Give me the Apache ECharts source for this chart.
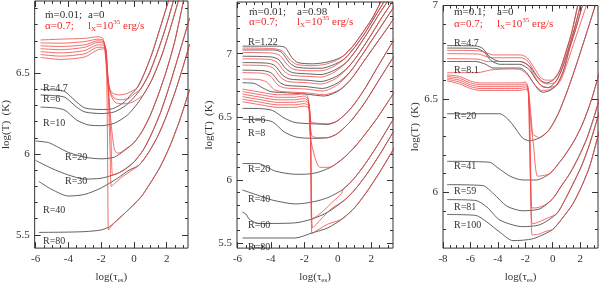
<!DOCTYPE html>
<html><head><meta charset="utf-8">
<script src="https://cdn.jsdelivr.net/npm/echarts@6/dist/echarts.min.js"></script>
<style>html,body{margin:0;padding:0;background:#fff}#c{width:600px;height:289px}</style>
</head><body><div id="c"></div>
<script>
// ---------- tick values ----------
const xMajorA = [-6,-4,-2,0,2];
const xMinorA = [-5.5,-5,-4.5,-3.5,-3,-2.5,-1.5,-1,-0.5,0.5,1,1.5,2.5,3];
const xMajorB = [-8,-6,-4,-2,0,2];
const xMinorB = [-7.5,-7,-6.5,-5.5,-5,-4.5,-3.5,-3,-2.5,-1.5,-1,-0.5,0.5,1,1.5,2.5,3];
const yMajor1 = [5.5,6,6.5];
const yMinor1 = [5.6,5.7,5.8,5.9,6.1,6.2,6.3,6.4,6.6,6.7,6.8,6.9];
const yMajor2 = [5.5,6,6.5,7];
const yMinor2 = [5.6,5.7,5.8,5.9,6.1,6.2,6.3,6.4,6.6,6.7,6.8,6.9,7.1,7.2,7.3,7.4];
const yMajor3 = [6,6.5,7];
const yMinor3 = [5.8,5.9,6.1,6.2,6.3,6.4,6.6,6.7,6.8,6.9];

// ---------- panel 1 (mdot=0.01, a=0) ----------
const p1Black4_7 = [[-5.7,6.40],[-4.8,6.395],[-4.2,6.385],[-3.6,6.33],[-3.0,6.285],[-2.0,6.275],[-1.3,6.28],[-0.6,6.32],[-0.2,6.365]];
const p1Red4_7 = [[-5.7,6.705],[-4.5,6.71],[-3.0,6.715],[-2.2,6.725],[-1.9,6.715],[-1.75,6.62],[-1.6,6.45],[-1.35,6.38],[-0.9,6.365],[-0.4,6.375]];
const p1Tail4_7 = [[0.2,6.41],[0.6,6.49],[1.1,6.62],[1.6,6.78],[2.15,6.96]];
const p1Black6 = [[-5.7,6.365],[-4.8,6.36],[-4.2,6.35],[-3.5,6.29],[-3.0,6.26],[-2.0,6.25],[-1.2,6.26],[-0.5,6.30],[0.0,6.35]];
const p1Red6 = [[-5.7,6.687],[-4.5,6.685],[-3.0,6.695],[-2.2,6.71],[-1.85,6.70],[-1.72,6.6],[-1.5,6.40],[-1.2,6.345],[-0.8,6.335],[-0.3,6.345],[0.0,6.37]];
const p1Tail6 = [[0.4,6.40],[0.9,6.49],[1.4,6.62],[1.9,6.77],[2.45,6.96]];
const p1Black10 = [[-5.7,6.29],[-4.8,6.285],[-4.2,6.27],[-3.5,6.21],[-2.8,6.18],[-2.0,6.175],[-1.2,6.19],[-0.4,6.24],[0.2,6.31]];
const p1Red10 = [[-5.7,6.669],[-4.5,6.665],[-3.0,6.675],[-2.2,6.70],[-1.82,6.69],[-1.68,6.58],[-1.45,6.38],[-1.15,6.32],[-0.66,6.31],[-0.1,6.32],[0.3,6.345]];
const p1Tail10 = [[0.6,6.37],[1.1,6.46],[1.7,6.61],[2.2,6.77],[2.75,6.96]];
const p1Black20 = [[-6.0,6.08],[-5.2,6.07],[-4.6,6.04],[-4.0,6.01],[-3.0,5.98],[-2.0,5.97],[-1.2,5.98],[-0.6,6.02]];
const p1Red20 = [[-5.7,6.651],[-4.5,6.645],[-3.0,6.66],[-2.2,6.69],[-1.8,6.68],[-1.65,6.55],[-1.45,6.25],[-1.2,6.03],[-1.0,6.005],[-0.8,6.01],[-0.45,6.035]];
const p1Tail20 = [[0.0,6.07],[0.5,6.14],[1.0,6.24],[1.5,6.37],[2.0,6.52],[2.5,6.70],[3.05,6.96]];
const p1Black30 = [[-6.0,5.96],[-5.0,5.91],[-4.0,5.87],[-3.0,5.845],[-2.0,5.85],[-1.0,5.88],[-0.5,5.91]];
const p1Red30 = [[-5.7,6.633],[-4.5,6.625],[-3.0,6.64],[-2.2,6.675],[-1.78,6.67],[-1.62,6.5],[-1.4,6.1],[-1.3,5.87],[-1.1,5.875],[-0.6,5.90]];
const p1Tail30 = [[0.0,5.95],[0.6,6.03],[1.1,6.13],[1.6,6.25],[2.1,6.40],[2.7,6.60],[3.4,6.84]];
const p1Black40 = [[-5.8,5.83],[-5.0,5.78],[-4.0,5.74],[-3.0,5.75],[-2.0,5.79],[-1.0,5.85],[-0.3,5.90]];
const p1Red40 = [[-5.7,6.615],[-4.5,6.605],[-3.0,6.62],[-2.2,6.66],[-1.76,6.66],[-1.6,6.45],[-1.45,6.0],[-1.38,5.80],[-1.2,5.815],[-0.7,5.86]];
const p1Tail40 = [[0.3,5.93],[0.9,6.01],[1.5,6.12],[2.0,6.24],[2.5,6.38],[3.0,6.54],[3.4,6.68]];
const p1Black80 = [[-5.8,5.515],[-4.0,5.517],[-3.0,5.52],[-2.0,5.53],[-1.5,5.55]];
const p1Red80 = [[-5.7,6.597],[-4.5,6.585],[-3.0,6.60],[-2.2,6.645],[-1.75,6.65],[-1.65,6.4],[-1.6,5.9],[-1.55,5.53],[-1.4,5.55]];
const p1Tail80 = [[-1.2,5.575],[-0.6,5.63],[0.4,5.73],[1.0,5.82],[1.6,5.92],[2.2,6.05],[2.8,6.21],[3.4,6.40]];

// ---------- panel 2 (mdot=0.01, a=0.98) ----------
const p2Black0 = [[-5.7,7.06],[-3.6,7.06],[-3.15,7.05],[-2.75,6.97],[-2.4,6.93],[-1.5,6.92],[-0.8,6.93],[-0.2,6.95]];
const p2Red0 = [[-5.7,7.045],[-3.8,7.04],[-3.3,7.02],[-2.85,6.95],[-2.45,6.915],[-1.5,6.905],[-0.8,6.915],[-0.2,6.94]];
const p2Tail0 = [[0.3,6.98],[0.9,7.06],[1.5,7.17],[2.1,7.29],[2.6,7.42]];
const p2Black1 = [[-5.7,7.03],[-3.8,7.03],[-3.35,7.01],[-2.9,6.93],[-2.5,6.895],[-1.6,6.885],[-1.0,6.885],[-0.3,6.91]];
const p2Red1 = [[-5.7,7.01],[-3.9,7.005],[-3.45,6.985],[-3.0,6.91],[-2.6,6.875],[-1.6,6.865],[-1.0,6.865],[-0.3,6.895]];
const p2Tail1 = [[0.4,6.96],[1.0,7.05],[1.6,7.16],[2.2,7.29],[2.8,7.42]];
const p2Black2 = [[-5.7,6.98],[-4.0,6.975],[-3.55,6.955],[-3.1,6.88],[-2.7,6.85],[-1.7,6.84],[-1.0,6.835],[-0.2,6.87]];
const p2Red2 = [[-5.7,6.96],[-4.1,6.955],[-3.65,6.935],[-3.2,6.86],[-2.8,6.83],[-1.7,6.82],[-1.0,6.815],[-0.2,6.855]];
const p2Tail2 = [[0.5,6.93],[1.1,7.03],[1.8,7.17],[2.4,7.30],[3.0,7.42]];
const p2Black3 = [[-5.7,6.93],[-4.2,6.925],[-3.75,6.905],[-3.3,6.83],[-2.9,6.80],[-1.8,6.79],[-1.0,6.78],[-0.1,6.82]];
const p2Red3 = [[-5.7,6.91],[-4.3,6.905],[-3.85,6.885],[-3.4,6.81],[-3.0,6.78],[-1.8,6.77],[-1.0,6.76],[-0.1,6.805]];
const p2Tail3 = [[0.6,6.89],[1.2,6.99],[1.9,7.13],[2.6,7.28],[3.4,7.44]];
const p2Black4 = [[-5.7,6.87],[-4.4,6.865],[-3.95,6.845],[-3.5,6.775],[-3.1,6.75],[-1.9,6.74],[-0.9,6.725],[0.0,6.77]];
const p2Red4 = [[-5.7,6.85],[-4.5,6.845],[-4.05,6.825],[-3.6,6.755],[-3.2,6.73],[-1.9,6.72],[-0.9,6.705],[0.0,6.755]];
const p2Tail4 = [[0.7,6.85],[1.4,6.98],[2.1,7.12],[2.8,7.26],[3.4,7.38]];
const p2Black5 = [[-5.7,6.77],[-5.0,6.765],[-4.5,6.73],[-4.0,6.70],[-3.0,6.69],[-1.9,6.68],[-0.8,6.665],[0.1,6.71]];
const p2Red5 = [[-5.7,6.80],[-4.7,6.795],[-4.25,6.775],[-3.8,6.715],[-3.3,6.70],[-1.9,6.69],[-0.8,6.675],[0.1,6.715]];
const p2Tail5 = [[0.8,6.80],[1.5,6.93],[2.3,7.08],[3.0,7.21],[3.4,7.29]];
const p2Black6 = [[-5.7,6.567],[-4.6,6.565],[-3.9,6.55],[-3.2,6.49],[-2.55,6.455],[-1.5,6.445],[-0.6,6.44]];
const p2Red6 = [[-5.7,6.72],[-4.6,6.695],[-3.6,6.675],[-2.6,6.675],[-2.0,6.685],[-1.8,6.66],[-1.7,6.55],[-1.6,6.46],[-1.3,6.45],[-0.6,6.445]];
const p2Tail6 = [[0.0,6.47],[0.8,6.57],[1.6,6.72],[2.4,6.90],[3.4,7.12]];
const p2Black8 = [[-5.7,6.48],[-4.6,6.478],[-3.9,6.46],[-3.2,6.38],[-2.5,6.34],[-1.5,6.33],[-0.6,6.335]];
const p2Red8 = [[-5.7,6.70],[-4.6,6.675],[-3.6,6.655],[-2.6,6.655],[-2.0,6.665],[-1.78,6.64],[-1.68,6.50],[-1.55,6.35],[-1.2,6.335],[-0.6,6.335]];
const p2Tail8 = [[0.0,6.37],[0.8,6.47],[1.6,6.61],[2.5,6.80],[3.4,6.99]];
const p2Black20 = [[-5.7,6.13],[-4.75,6.13],[-4.2,6.10],[-3.75,6.07],[-2.55,6.045],[-2.0,6.045],[-1.2,6.06],[-0.6,6.09]];
const p2Red20 = [[-5.7,6.68],[-4.6,6.655],[-3.6,6.635],[-2.6,6.635],[-2.0,6.645],[-1.75,6.62],[-1.65,6.34],[-1.07,6.10],[-0.6,6.10]];
const p2Tail20 = [[-0.3,6.11],[0.4,6.18],[1.0,6.26],[1.5,6.34],[2.3,6.48],[3.4,6.70]];
const p2Black40 = [[-5.7,5.92],[-4.8,5.88],[-3.9,5.84],[-2.55,5.81],[-2.0,5.815],[-1.2,5.835],[-0.6,5.86],[0.0,5.90]];
const p2Red40 = [[-5.7,6.66],[-4.6,6.635],[-3.6,6.615],[-2.6,6.615],[-2.0,6.625],[-1.72,6.60],[-1.62,6.2],[-1.55,5.69],[-1.3,5.71],[-0.95,5.745],[-0.2,5.84],[0.2,5.89]];
const p2Tail40 = [[0.35,5.93],[0.9,6.0],[1.6,6.12],[2.4,6.28],[3.4,6.50]];
const p2Black60 = [[-5.7,5.745],[-5.5,5.73],[-5.3,5.69],[-4.9,5.66],[-4.5,5.655],[-2.55,5.66],[-1.55,5.69],[-0.6,5.745]];
const p2Red60 = [[-5.7,6.64],[-4.6,6.615],[-3.6,6.595],[-2.6,6.595],[-2.0,6.605],[-1.7,6.58],[-1.6,6.1],[-1.5,5.62],[-1.0,5.69],[-0.4,5.77]];
const p2Tail60 = [[0.4,5.84],[1.0,5.92],[1.7,6.04],[2.5,6.20],[3.4,6.40]];
const p2Black80 = [[-5.7,5.54],[-2.55,5.54],[-1.55,5.58],[-0.6,5.62]];
const p2Red80 = [[-5.7,6.62],[-4.6,6.595],[-3.6,6.575],[-2.6,6.575],[-2.0,6.585],[-1.68,6.56],[-1.6,6.0],[-1.55,5.575],[-0.6,5.65]];
const p2Tail80 = [[0.25,5.69],[1.0,5.78],[1.7,5.90],[2.5,6.06],[3.4,6.26]];

// ---------- panel 3 (mdot=0.1, a=0) ----------
const p3Black4_7 = [[-7.7,6.785],[-5.6,6.783],[-5.1,6.77],[-4.6,6.725],[-3.85,6.70],[-2.4,6.70],[-1.7,6.675],[-1.2,6.625],[-0.8,6.595],[-0.45,6.585]];
const p3Red4_7 = [[-7.7,6.76],[-5.4,6.757],[-4.8,6.745],[-4.3,6.735],[-2.3,6.735],[-1.8,6.715],[-1.3,6.66],[-0.9,6.615],[-0.5,6.60]];
const p3Tail4_7 = [[0.0,6.60],[0.5,6.65],[1.0,6.76],[1.4,6.86],[1.85,7.01]];
const p3BlackB = [[-7.7,6.772],[-5.6,6.77],[-5.0,6.75],[-4.5,6.705],[-3.85,6.685],[-2.4,6.685],[-1.7,6.655],[-1.2,6.60],[-0.75,6.565],[-0.35,6.56]];
const p3RedB = [[-7.7,6.742],[-5.4,6.74],[-4.8,6.725],[-4.3,6.72],[-2.3,6.72],[-1.8,6.70],[-1.3,6.64],[-0.9,6.595],[-0.4,6.58]];
const p3TailB = [[0.2,6.59],[0.7,6.665],[1.2,6.78],[1.6,6.88],[2.05,7.01]];
const p3Black8_1 = [[-7.7,6.70],[-5.6,6.70],[-4.9,6.685],[-4.35,6.665],[-2.4,6.665],[-1.9,6.64],[-1.45,6.59],[-1.0,6.545],[-0.7,6.535],[-0.2,6.545]];
const p3Red8_1 = [[-7.7,6.715],[-5.4,6.712],[-4.8,6.70],[-4.3,6.70],[-2.3,6.70],[-1.8,6.68],[-1.3,6.62],[-0.9,6.575],[-0.3,6.56]];
const p3Tail8_1 = [[0.3,6.575],[0.8,6.655],[1.25,6.775],[1.7,6.88],[2.2,7.01]];
const p3RedD = [[-7.7,6.64],[-5.5,6.64],[-4.5,6.655],[-3.0,6.66],[-2.3,6.655],[-1.8,6.625],[-1.3,6.575],[-0.8,6.545],[-0.2,6.55]];
const p3TailD = [[0.5,6.59],[1.0,6.68],[1.5,6.79],[2.0,6.90],[2.5,7.01]];
const p3Black20 = [[-7.7,6.42],[-3.85,6.42],[-3.4,6.40],[-2.9,6.36],[-2.2,6.29],[-1.7,6.275]];
const p3Red20 = [[-7.7,6.628],[-6.8,6.62],[-6.0,6.595],[-5.3,6.585],[-2.4,6.585],[-2.0,6.59],[-1.85,6.575],[-1.7,6.50],[-1.55,6.38],[-1.45,6.31],[-1.1,6.295]];
const p3Tail20 = [[-1.0,6.29],[-0.3,6.33],[0.4,6.42],[1.1,6.55],[1.8,6.70],[2.5,6.86],[3.1,7.0]];
const p3Black41 = [[-7.7,6.165],[-4.6,6.16],[-4.0,6.13],[-3.1,6.085],[-2.2,6.065],[-1.2,6.065]];
const p3Red41 = [[-7.7,6.620],[-6.8,6.61],[-6.0,6.585],[-5.3,6.575],[-2.4,6.575],[-2.0,6.58],[-1.82,6.565],[-1.7,6.45],[-1.4,6.25],[-1.1,6.085],[-0.6,6.09]];
const p3Tail41 = [[-0.2,6.10],[0.5,6.16],[1.0,6.21],[1.6,6.28],[2.2,6.37],[2.8,6.49],[3.4,6.64]];
const p3Black59 = [[-7.7,6.04],[-5.1,6.035],[-4.3,5.99],[-3.35,5.925],[-2.2,5.90],[-0.95,5.91]];
const p3Red59 = [[-7.7,6.612],[-6.8,6.60],[-6.0,6.575],[-5.3,6.565],[-2.4,6.565],[-2.0,6.57],[-1.8,6.555],[-1.7,6.3],[-1.55,5.92],[-1.3,5.915],[-0.6,5.93]];
const p3Tail59 = [[0.0,5.965],[0.6,6.03],[1.25,6.10],[1.9,6.19],[2.5,6.29],[3.0,6.40],[3.4,6.50]];
const p3Black81 = [[-7.7,5.96],[-5.6,5.955],[-4.8,5.92],[-3.85,5.85],[-2.2,5.815],[-0.95,5.825]];
const p3Red81 = [[-7.7,6.604],[-6.8,6.59],[-6.0,6.565],[-5.3,6.555],[-2.4,6.555],[-2.0,6.56],[-1.78,6.545],[-1.65,6.2],[-1.5,5.83],[-1.2,5.835],[-0.4,5.86]];
const p3Tail81 = [[0.3,5.885],[0.9,5.96],[1.45,6.04],[2.1,6.14],[2.7,6.26],[3.4,6.43]];
const p3Black100 = [[-7.7,5.88],[-5.6,5.875],[-4.8,5.84],[-3.85,5.785],[-2.9,5.74],[-1.45,5.75]];
const p3Red100 = [[-7.7,6.596],[-6.8,6.58],[-6.0,6.555],[-5.3,6.545],[-2.4,6.545],[-2.0,6.55],[-1.75,6.535],[-1.6,6.1],[-1.5,5.77],[-1.0,5.775],[-0.5,5.79]];
const p3Tail100 = [[0.0,5.80],[0.7,5.86],[1.45,5.935],[2.1,6.03],[2.7,6.14],[3.4,6.33]];

// ---------- labels ----------
const p1RLabels = ['R=4.7','R=6','R=10','R=20','R=30','R=40','R=80'];
const p2RLabels = ['R=1.22','R=6','R=8','R=20','R=40','R=60','R=80'];
const p3RLabels = ['R=4.7','R=8.1','R=20','R=41','R=59','R=81','R=100'];

// ---------- styling / layout ----------
const FONT = '"Liberation Serif", serif';
const BLACK = '#3a3a3a', RED = '#f04848', TXT = '#333', TRED = '#ee2a2a';
const grids = [
  {left:32, top:1, width:156, height:261},
  {left:237, top:2, width:156, height:261},
  {left:443, top:4, width:155, height:259}
];
const ranges = [
  {xmin:-6.06, xmax:3.3, ymin:5.418, ymax:6.946, xMaj:xMajorA, xMin:xMinorA, yMaj:yMajor1, yMin:yMinor1, nameGap:22},
  {xmin:-6.03, xmax:3.3, ymin:5.46, ymax:7.41, xMaj:xMajorA, xMin:xMinorA, yMaj:yMajor2, yMin:yMinor2, nameGap:20},
  {xmin:-8.0, xmax:3.3, ymin:5.70, ymax:7.0, xMaj:xMajorB, xMin:xMinorB, yMaj:yMajor3, yMin:yMinor3, nameGap:17}
];
const xAxes = [], yAxes = [];
const tickStyle = {color:'#333', width:1};
ranges.forEach((r, gi) => {
  const base = {type:'value', gridIndex:gi, splitLine:{show:false}, axisLine:{show:false, onZero:false}};
  const tk = (vals, len) => ({show:true, inside:true, length:len, customValues:vals, lineStyle:tickStyle});
  xAxes.push(Object.assign({}, base, {min:r.xmin, max:r.xmax, position:'bottom', axisTick:tk(r.xMaj,6),
    axisLabel:{show:true, customValues:r.xMaj, margin:6, fontSize:11, fontFamily:FONT, color:TXT},
    name:'log(τ{s|es})', nameLocation:'middle', nameGap:21,
    nameTextStyle:{fontSize:11, fontFamily:FONT, color:TXT, lineHeight:14, rich:{s:{fontSize:7, fontFamily:FONT, color:TXT, verticalAlign:'bottom', lineHeight:8}}}}));
  xAxes.push(Object.assign({}, base, {min:r.xmin, max:r.xmax, position:'bottom', axisTick:tk(r.xMin,3), axisLabel:{show:false}}));
  xAxes.push(Object.assign({}, base, {min:r.xmin, max:r.xmax, position:'top', axisTick:tk(r.xMaj,6), axisLabel:{show:false}}));
  xAxes.push(Object.assign({}, base, {min:r.xmin, max:r.xmax, position:'top', axisTick:tk(r.xMin,3), axisLabel:{show:false}}));
  yAxes.push(Object.assign({}, base, {min:r.ymin, max:r.ymax, position:'left', axisTick:tk(r.yMaj,6),
    axisLabel:{show:true, customValues:r.yMaj, margin:5, fontSize:11, fontFamily:FONT, color:TXT},
    name:'log(T)  (K)', nameLocation:'middle', nameGap:r.nameGap, nameRotate:90,
    nameTextStyle:{fontSize:11, fontFamily:FONT, color:TXT}}));
  yAxes.push(Object.assign({}, base, {min:r.ymin, max:r.ymax, position:'left', axisTick:tk(r.yMin,3), axisLabel:{show:false}}));
  yAxes.push(Object.assign({}, base, {min:r.ymin, max:r.ymax, position:'right', axisTick:tk(r.yMaj,6), axisLabel:{show:false}}));
  yAxes.push(Object.assign({}, base, {min:r.ymin, max:r.ymax, position:'right', axisTick:tk(r.yMin,3), axisLabel:{show:false}}));
});

const series = [];
function line(panel, pts, color) {
  series.push({type:'line', xAxisIndex:panel*4, yAxisIndex:panel*4, data:pts, showSymbol:false, symbol:'none',
    smooth:0.25, clip:true, silent:true, lineStyle:{color:color, width:0.8}, z:color===RED?3:2});
}
function pair(panel, black, red, tail) {
  if (black) line(panel, black.concat(tail), BLACK);
  if (red) line(panel, red.concat(tail), RED);
}
pair(0, p1Black4_7, p1Red4_7, p1Tail4_7);
pair(0, p1Black6, p1Red6, p1Tail6);
pair(0, p1Black10, p1Red10, p1Tail10);
pair(0, p1Black20, p1Red20, p1Tail20);
pair(0, p1Black30, p1Red30, p1Tail30);
pair(0, p1Black40, p1Red40, p1Tail40);
pair(0, p1Black80, p1Red80, p1Tail80);
pair(1, p2Black0, p2Red0, p2Tail0);
pair(1, p2Black1, p2Red1, p2Tail1);
pair(1, p2Black2, p2Red2, p2Tail2);
pair(1, p2Black3, p2Red3, p2Tail3);
pair(1, p2Black4, p2Red4, p2Tail4);
pair(1, p2Black5, p2Red5, p2Tail5);
pair(1, p2Black6, p2Red6, p2Tail6);
pair(1, p2Black8, p2Red8, p2Tail8);
pair(1, p2Black20, p2Red20, p2Tail20);
pair(1, p2Black40, p2Red40, p2Tail40);
pair(1, p2Black60, p2Red60, p2Tail60);
pair(1, p2Black80, p2Red80, p2Tail80);
pair(2, p3Black4_7, p3Red4_7, p3Tail4_7);
pair(2, p3BlackB, p3RedB, p3TailB);
pair(2, p3Black8_1, p3Red8_1, p3Tail8_1);
pair(2, null, p3RedD, p3TailD);
pair(2, p3Black20, p3Red20, p3Tail20);
pair(2, p3Black41, p3Red41, p3Tail41);
pair(2, p3Black59, p3Red59, p3Tail59);
pair(2, p3Black81, p3Red81, p3Tail81);
pair(2, p3Black100, p3Red100, p3Tail100);

// ---------- text annotations ----------
const rich = {
  sub:{fontSize:7, fontFamily:FONT, fill:TRED, verticalAlign:'bottom', lineHeight:8},
  sup:{fontSize:7, fontFamily:FONT, fill:TRED, verticalAlign:'top', lineHeight:8}
};
const graphics = [];
function txt(x, y, s, color, size) {
  graphics.push({type:'text', x:x, y:y, silent:true, z:100,
    style:{text:s, fill:color, fontSize:size||10, fontFamily:FONT, verticalAlign:'middle', lineHeight:14, rich:rich}});
}
const headers = [
  {x1:45, x2:88, y1:15, y2:26, m:'ṁ=0.01;', a:'a=0'},
  {x1:249, x2:297, y1:12, y2:22, m:'ṁ=0.01;', a:'a=0.98'},
  {x1:454, x2:497, y1:12, y2:24, m:'ṁ=0.1;', a:'a=0'}
];
headers.forEach(h => {
  txt(h.x1, h.y1, h.m, TXT, 11);
  txt(h.x2, h.y1, h.a, TXT, 11);
  txt(h.x1, h.y2, 'α=0.7;', TRED, 11);
  txt(h.x2, h.y2, 'l{sub|X}=10{sup|35} erg/s', TRED, 11);
});
const p1RPos = [[43,88],[43,99],[43,123],[65,157],[65,181],[43,210],[43,241]];
const p2RPos = [[248,42],[248,120],[248,133],[248,169],[248,199],[248,225],[248,247]];
const p3RPos = [[454,43],[454,70],[454,116],[454,166],[454,191],[454,207],[454,225]];
p1RLabels.forEach((s,i) => txt(p1RPos[i][0], p1RPos[i][1], s, TXT, 10));
p2RLabels.forEach((s,i) => txt(p2RPos[i][0], p2RPos[i][1], s, TXT, 10));
p3RLabels.forEach((s,i) => txt(p3RPos[i][0], p3RPos[i][1], s, TXT, 10));

const chart = echarts.init(document.getElementById('c'), null, {renderer:'canvas'});
chart.setOption({
  animation:false,
  backgroundColor:'#fff',
  grid: grids.map(g => Object.assign({show:true, borderColor:'#333', borderWidth:1, backgroundColor:'transparent', containLabel:false}, g)),
  xAxis: xAxes,
  yAxis: yAxes,
  series: series,
  graphic: graphics
});
</script></body></html>
